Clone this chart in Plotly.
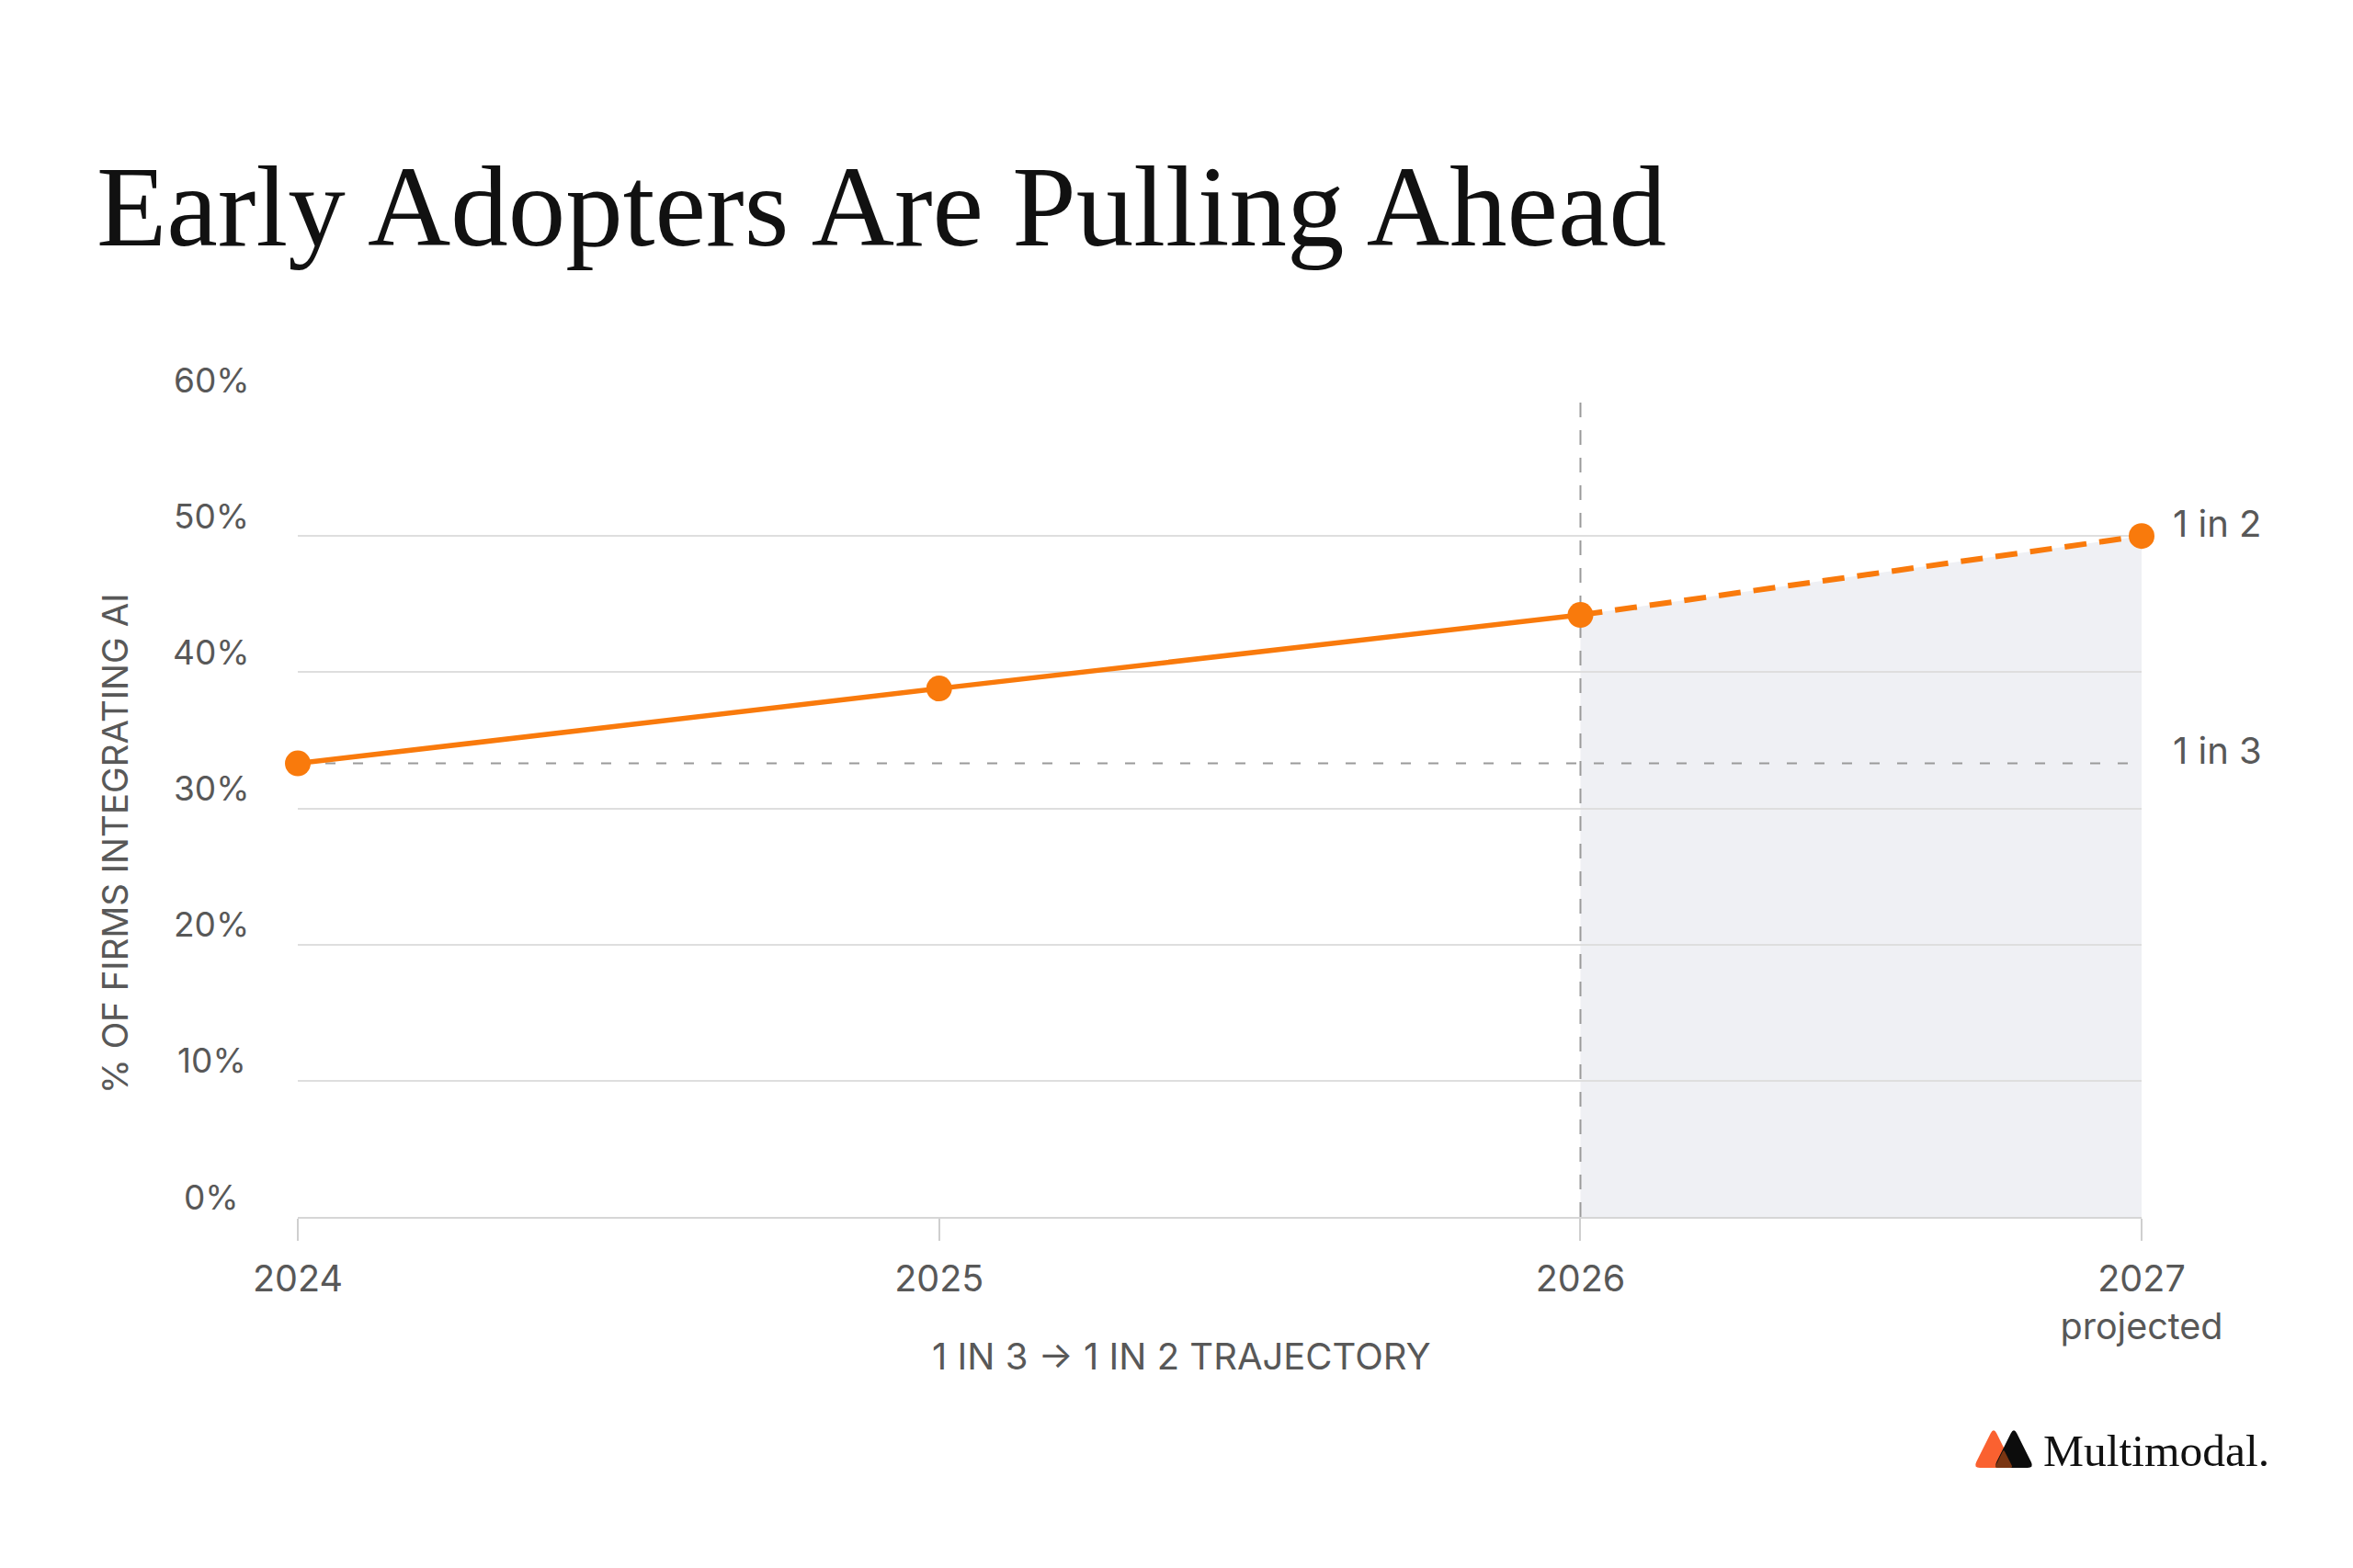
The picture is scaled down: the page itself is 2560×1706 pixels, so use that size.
import plotly.graph_objects as go

# ---------------- data ----------------
year_labels = ["2024", "2025", "2026", "2027<br>projected"]
year_pos = [2024, 2025, 2026, 2026.875]          # x positions as drawn in the reference
share_pct = [33.3, 38.8, 44.2, 50.0]             # % of firms integrating AI
one_in_three = 33.3
y_ticks = [0, 10, 20, 30, 40, 50, 60]
y_tick_labels = ["0%", "10%", "20%", "30%", "40%", "50%", "60%"]
end_labels = ["1 in 2", "1 in 3"]
title_text = "Early Adopters Are Pulling Ahead"
y_title = "% OF FIRMS INTEGRATING AI"
x_title = "1 IN 3 \u2192 1 IN 2 TRAJECTORY"
brand = "Multimodal."

# ---------------- styling ----------------
OFF = 8                       # page body margin
W, H = 2560 - OFF, 1706 - OFF
PL, PR, PT, PB = 324, 2330, 435, 1324   # screen pixels of plot area
ORANGE = "#F97A0C"
GRID = "#DEDEDE"
DASH_GRAY = "#9A9A9A"
TEXT_GRAY = "#585858"
FILL = "#EFF0F4"
SANS = "Inter, Roboto, sans-serif"
SERIF = "Liberation Serif, DejaVu Serif, serif"


def px_x(px):
    return (px - PL) / (PR - PL)


def px_y(py):
    return (PB - py) / (PB - PT)


fig = go.Figure()

# 1 in 3 reference line
fig.add_trace(go.Scatter(
    x=[year_pos[0], year_pos[-1]], y=[one_in_three, one_in_three],
    mode="lines", line=dict(color=DASH_GRAY, width=2, dash="11px,19px"),
    hoverinfo="skip", showlegend=False, cliponaxis=False))

# vertical projection divider at 2026
fig.add_trace(go.Scatter(
    x=[year_pos[2], year_pos[2]], y=[y_ticks[0], y_ticks[-1]],
    mode="lines", line=dict(color=DASH_GRAY, width=2, dash="16px,14px"),
    hoverinfo="skip", showlegend=False, cliponaxis=False))

# actual (solid)
fig.add_trace(go.Scatter(
    x=year_pos[:3], y=share_pct[:3], mode="lines",
    line=dict(color=ORANGE, width=5.5), showlegend=False, cliponaxis=False))

# projected (dashed)
fig.add_trace(go.Scatter(
    x=year_pos[2:], y=share_pct[2:], mode="lines",
    line=dict(color=ORANGE, width=6, dash="24px,14px"),
    showlegend=False, cliponaxis=False))

# markers
fig.add_trace(go.Scatter(
    x=year_pos, y=share_pct, mode="markers",
    marker=dict(color=ORANGE, size=28, line=dict(width=0)),
    showlegend=False, cliponaxis=False))

# projected shaded region (below gridlines)
path = "M {x0},0 L {x0},{y0} L {x1},{y1} L {x1},0 Z".format(
    x0=year_pos[2], y0=share_pct[2], x1=year_pos[3], y1=share_pct[3])
shapes = [dict(type="path", path=path, xref="x", yref="y",
               fillcolor=FILL, line=dict(width=0), layer="below")]


# ---------------- logo ----------------
def rounded_triangle(pts, r):
    import math
    segs = []
    n = len(pts)
    for i in range(n):
        p_prev = pts[i - 1]
        p = pts[i]
        p_next = pts[(i + 1) % n]

        def toward(a, b, d):
            dx, dy = b[0] - a[0], b[1] - a[1]
            L = math.hypot(dx, dy)
            return (a[0] + dx * d / L, a[1] + dy * d / L)
        a = toward(p, p_prev, r)
        b = toward(p, p_next, r)
        segs.append((a, p, b))
    d = ""
    for i, (a, p, b) in enumerate(segs):
        ax, ay = px_x(a[0]), px_y(a[1])
        cx, cy = px_x(p[0]), px_y(p[1])
        bx, by = px_x(b[0]), px_y(b[1])
        d += ("M" if i == 0 else "L") + f" {ax},{ay} Q {cx},{cy} {bx},{by} "
    return d + "Z"


shapes.append(dict(type="path", xref="paper", yref="paper", layer="above",
                   path=rounded_triangle([(2147, 1597), (2169, 1553), (2191, 1597)], 7),
                   fillcolor="#FA6130", line=dict(width=0)))
shapes.append(dict(type="path", xref="paper", yref="paper", layer="above",
                   path=rounded_triangle([(2169, 1597), (2191, 1553), (2213, 1597)], 7),
                   fillcolor="#0C0C0C", line=dict(width=0)))
shapes.append(dict(type="path", xref="paper", yref="paper", layer="above",
                   path=rounded_triangle([(2170, 1597), (2180, 1577), (2190, 1597)], 3),
                   fillcolor="#7A3512", line=dict(width=0)))

# ---------------- annotations ----------------
ann = []
ann.append(dict(text=title_text, xref="paper", yref="paper",
                x=px_x(103), y=px_y(225), xanchor="left", yanchor="middle",
                showarrow=False, font=dict(family=SERIF, size=125, color="#111111")))
for v, lab in zip(y_ticks, y_tick_labels):
    ann.append(dict(text=lab, xref="paper", yref="y", x=px_x(230), y=v, yshift=22,
                    xanchor="center", yanchor="middle", showarrow=False,
                    font=dict(family=SANS, size=37, color=TEXT_GRAY)))
ann.append(dict(text=y_title, xref="paper", yref="paper", x=px_x(125), y=px_y(918),
                textangle=-90, xanchor="center", yanchor="middle", showarrow=False,
                font=dict(family=SANS, size=38.5, color=TEXT_GRAY)))
ann.append(dict(text=x_title, xref="paper", yref="paper", x=px_x(1285), y=px_y(1475),
                xanchor="center", yanchor="middle", showarrow=False,
                font=dict(family=SANS, size=40, color=TEXT_GRAY)))
ann.append(dict(text=end_labels[0], xref="x", yref="y", x=year_pos[-1], y=share_pct[-1],
                xshift=32, yshift=14, xanchor="left", yanchor="middle", showarrow=False,
                font=dict(family=SANS, size=40, color=TEXT_GRAY)))
ann.append(dict(text=end_labels[1], xref="x", yref="y", x=year_pos[-1], y=one_in_three,
                xshift=32, yshift=14, xanchor="left", yanchor="middle", showarrow=False,
                font=dict(family=SANS, size=40, color=TEXT_GRAY)))
ann.append(dict(text=brand, xref="paper", yref="paper", x=px_x(2221), y=px_y(1578),
                xanchor="left", yanchor="middle", showarrow=False,
                font=dict(family=SERIF, size=49.5, color="#111111")))

fig.update_layout(
    width=W, height=H,
    margin=dict(l=PL - OFF, r=W - (PR - OFF), t=PT - OFF, b=H - (PB - OFF), pad=0),
    paper_bgcolor="white", plot_bgcolor="rgba(0,0,0,0)",
    shapes=shapes, annotations=ann, showlegend=False,
    xaxis=dict(range=[year_pos[0], year_pos[-1]], tickvals=year_pos, ticktext=year_labels,
               showgrid=False, zeroline=False, showline=True, linecolor="#D6D6D6", linewidth=2,
               ticks="outside", ticklen=24, tickwidth=1.5, tickcolor="#CFCFCF",
               ticklabelstandoff=8,
               tickfont=dict(family=SANS, size=39.5, color=TEXT_GRAY), fixedrange=True),
    yaxis=dict(range=[y_ticks[0], y_ticks[-1]], tickvals=y_ticks, showticklabels=False,
               showgrid=True, gridcolor=GRID, gridwidth=2, zeroline=False,
               showline=False, ticks="", fixedrange=True),
)

fig.write_html("out.html")
